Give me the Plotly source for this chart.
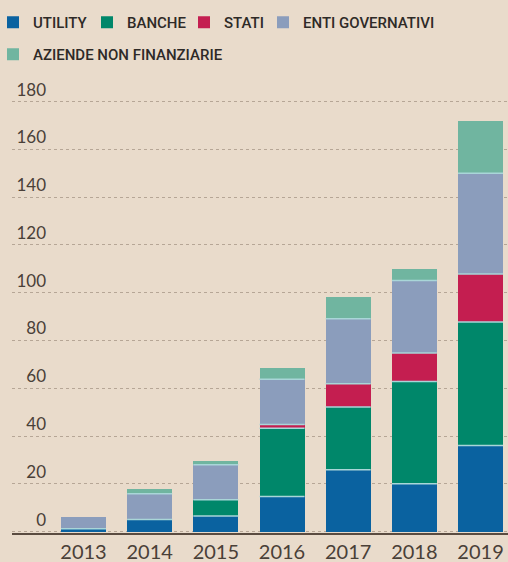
import plotly.graph_objects as go

years = ["2013", "2014", "2015", "2016", "2017", "2018", "2019"]
utility = [1.2, 5.0, 6.5, 14.7, 25.9, 20.0, 36.0]
banche = [0.0, 0.0, 6.8, 28.6, 26.2, 42.8, 51.7]
stati = [0.0, 0.0, 0.0, 1.5, 9.8, 11.9, 20.1]
enti = [4.7, 10.8, 14.7, 19.0, 27.2, 30.4, 42.2]
aziende = [0.0, 2.1, 1.5, 4.7, 8.9, 4.9, 22.0]

series = [
    ("UTILITY", utility, "#0a62a0"),
    ("BANCHE", banche, "#00876a"),
    ("STATI", stati, "#c41e50"),
    ("ENTI GOVERNATIVI", enti, "#8b9dbc"),
    ("AZIENDE NON FINANZIARIE", aziende, "#70b5a0"),
]
# legend entry placement (container px): left edge, top
leg_pos = [(3, 6), (97, 6), (194, 6), (273, 6), (3, 38)]

yticks = list(range(0, 181, 20))
BG = "#e9dbcb"
BAR_W = 0.68
xpos = list(range(len(years)))
W, H = 508, 562
TICKFONT_Y = dict(family="Lato", size=17, color="#4a4038")

fig = go.Figure()
legend_layout = {}
legfont = dict(family="Roboto", size=15, color="#2e2a27", weight=500)
for k, (name, vals, col) in enumerate(series):
    lname = "legend" if k == 0 else f"legend{k + 1}"
    fig.add_trace(go.Bar(
        x=xpos, y=vals, name=name, width=BAR_W,
        marker=dict(color=col, line=dict(width=0)),
        legend=lname,
    ))
    lx, ly = leg_pos[k]
    legend_layout[lname] = dict(
        orientation="h", xref="container", yref="container",
        x=lx / W, y=1 - ly / H, xanchor="left", yanchor="top",
        font=legfont, bgcolor="rgba(0,0,0,0)", indentation=-10)

# thin light separators between stacked segments (derived from data)
shapes = []
for i in xpos:
    vals = [s[1][i] for s in series]
    cum = 0
    for k, v in enumerate(vals):
        cum += v
        if v > 0 and any(w > 0 for w in vals[k + 1:]):
            shapes.append(dict(type="line", xref="x", yref="y",
                               x0=i - BAR_W / 2, x1=i + BAR_W / 2, y0=cum, y1=cum,
                               line=dict(color="#a9d6d8", width=1.5), layer="above"))

fig.update_layout(
    width=W, height=H,
    paper_bgcolor=BG, plot_bgcolor=BG,
    margin=dict(l=12, r=0, t=92, b=29),
    barmode="stack",
    bargap=0,
    showlegend=True,
    shapes=shapes,
    xaxis=dict(range=[-1.0806, 6.415], tickvals=xpos, ticktext=years,
               showgrid=False, zeroline=False, showline=True,
               linecolor="#5a4b40", linewidth=2, ticks="",
               tickfont=dict(family="Lato", size=20, color="#4a4038")),
    yaxis=dict(range=[-0.6, 184], tickvals=yticks, ticktext=[str(t) for t in yticks],
               showgrid=True, gridcolor="#b6a696", griddash="dot", gridwidth=1,
               zeroline=False, showline=False, ticks="",
               ticklabelposition="outside", ticklabelstandoff=-35, ticklabelshift=-12,
               tickfont=TICKFONT_Y),
    **legend_layout,
)

fig.write_html("out.html")
